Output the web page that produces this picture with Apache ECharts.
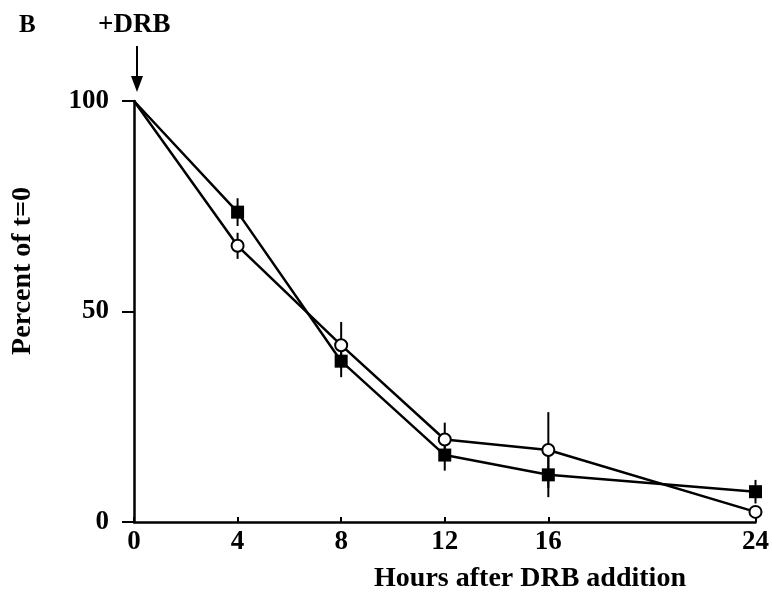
<!DOCTYPE html>
<html lang="en">
<head>
  <meta charset="utf-8">
  <title>DRB decay</title>
  <script src="https://cdn.jsdelivr.net/npm/echarts@6/dist/echarts.min.js"></script>
  <style>
    html, body { margin: 0; padding: 0; background: #fff; }
  </style>
</head>
<body>
<div id="main" style="width: 772px;height:597px;"></div>
<script type="text/javascript">
// hours after DRB addition
var hours = [0, 4, 8, 12, 16, 24];
var xTicks = [0, 4, 8, 12, 16, 24];
var yTicks = [0, 50, 100];
// filled squares
var squareVals = [100, 73.6, 38.2, 15.9, 11.2, 7.2];
var squareErr = [0, 3.3, 3.8, 3.7, 5.3, 2.8];
// open circles
var circleVals = [100, 65.6, 42.0, 19.6, 17.1, 2.4];
var circleErr = [0, 3.1, 5.5, 4.0, 9.0, 0];

var fontFam = '"Liberation Serif", "Times New Roman", serif';

function pts(vals) {
  var out = [];
  for (var i = 0; i < hours.length; i++) {
    var p = { value: [hours[i], vals[i]] };
    if (hours[i] === 0) p.symbol = 'none';
    out.push(p);
  }
  return out;
}
function errs(vals, e) {
  var out = [];
  for (var i = 0; i < hours.length; i++) {
    if (e[i] > 0) out.push([hours[i], vals[i] - e[i], vals[i] + e[i]]);
  }
  return out;
}
function errRender(params, api) {
  var lo = api.coord([api.value(0), api.value(1)]);
  var hi = api.coord([api.value(0), api.value(2)]);
  return {
    type: 'line',
    shape: { x1: lo[0], y1: lo[1], x2: hi[0], y2: hi[1] },
    style: { stroke: '#000', lineWidth: 2 }
  };
}

var myChart = echarts.init(document.getElementById('main'));
var option = {
  animation: false,
  backgroundColor: '#fff',
  grid: { left: 134, right: 8, top: 101, bottom: 75 },
  xAxis: {
    type: 'value', min: 0, max: 24, interval: 4,
    axisLine: { lineStyle: { color: '#000', width: 2.5 } },
    axisTick: { show: true, inside: true, length: 5, customValues: xTicks, lineStyle: { color: '#000', width: 2 } },
    axisLabel: { customValues: xTicks, margin: 7, color: '#000', fontFamily: fontFam, fontWeight: 'bold', fontSize: 27 },
    splitLine: { show: false }
  },
  yAxis: {
    type: 'value', min: 0, max: 100, interval: 50,
    axisLine: { show: true, lineStyle: { color: '#000', width: 2.5 } },
    axisTick: { show: true, length: 12, customValues: yTicks, lineStyle: { color: '#000', width: 2 } },
    axisLabel: { customValues: yTicks, margin: 25, color: '#000', fontFamily: fontFam, fontWeight: 'bold', fontSize: 27 },
    splitLine: { show: false }
  },
  graphic: [
    { type: 'text', left: 19, top: 13, style: { text: 'B', font: 'bold 25px ' + fontFam, fill: '#000' } },
    { type: 'text', left: 98, top: 12, style: { text: '+DRB', font: 'bold 27px ' + fontFam, fill: '#000' } },
    { type: 'line', shape: { x1: 137, y1: 46, x2: 137, y2: 80 }, style: { stroke: '#000', lineWidth: 2 } },
    { type: 'polygon', shape: { points: [[131, 76], [143, 76], [137, 92]] }, style: { fill: '#000' } },
    { type: 'text', x: 23, y: 271, rotation: Math.PI / 2,
      style: { text: 'Percent of t=0', font: 'bold 28px ' + fontFam, fill: '#000', align: 'center', verticalAlign: 'middle' } },
    { type: 'text', x: 530, y: 579,
      style: { text: 'Hours after DRB addition', font: 'bold 28px ' + fontFam, fill: '#000', align: 'center', verticalAlign: 'middle' } }
  ],
  series: [
    { type: 'custom', renderItem: errRender, data: errs(squareVals, squareErr), z: 1 },
    { type: 'custom', renderItem: errRender, data: errs(circleVals, circleErr), z: 1 },
    {
      name: 'squares', type: 'line', data: pts(squareVals), z: 3,
      symbol: 'rect', symbolSize: 13,
      lineStyle: { color: '#000', width: 2.5 },
      itemStyle: { color: '#000', borderColor: '#000', borderWidth: 0 }
    },
    {
      name: 'circles', type: 'line', data: pts(circleVals), z: 4,
      symbol: 'circle', symbolSize: 12, showAllSymbol: true,
      lineStyle: { color: '#000', width: 2.5 },
      itemStyle: { color: '#fff', borderColor: '#000', borderWidth: 2 }
    }
  ]
};
myChart.setOption(option);
</script>
</body>
</html>
